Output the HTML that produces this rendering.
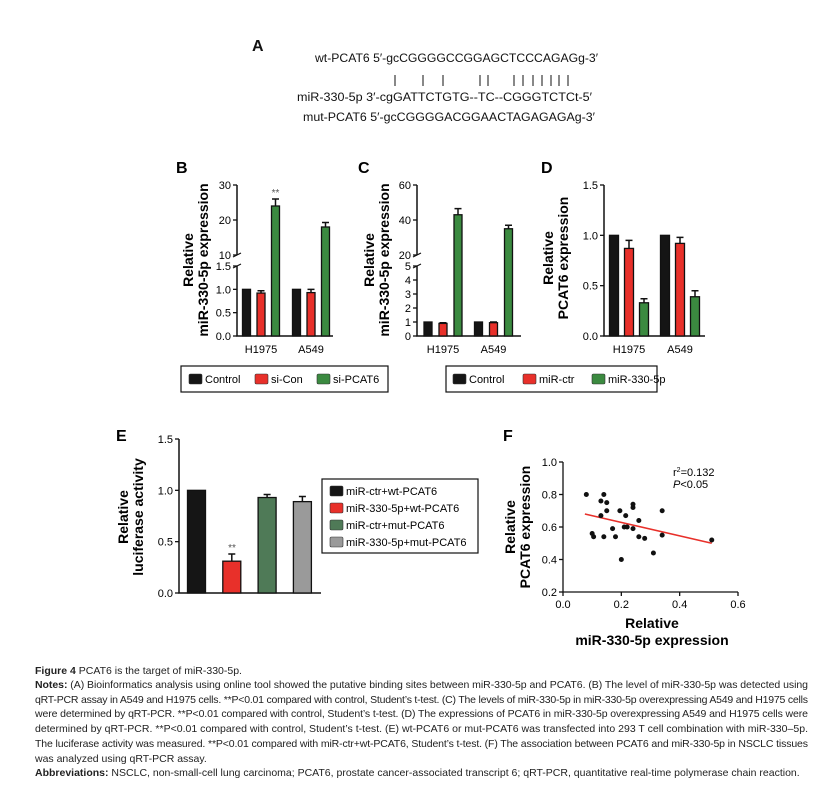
<!DOCTYPE html>
<html><head><meta charset="utf-8"><style>
body{margin:0;background:#fff}
svg{display:block;font-family:"Liberation Sans",sans-serif}
</style></head><body>
<svg id="fig" width="835" height="787" viewBox="0 0 835 787" xmlns="http://www.w3.org/2000/svg">
<g font-size="11.5" fill="#111">
<text x="252" y="51" font-size="16" font-weight="bold">A</text>
<text x="315" y="62" textLength="283" lengthAdjust="spacingAndGlyphs">wt-PCAT6 5′-gcCGGGGCCGGAGCTCCCAGAGg-3′</text>
<text x="297" y="101" textLength="295" lengthAdjust="spacingAndGlyphs">miR-330-5p 3′-cgGATTCTGTG--TC--CGGGTCTCt-5′</text>
<text x="303" y="121" textLength="292" lengthAdjust="spacingAndGlyphs">mut-PCAT6 5′-gcCGGGGACGGAACTAGAGAGAg-3′</text>
<g id="pairs" stroke="#111" stroke-width="1"></g>
</g>
<g id="chartB"></g>
<g id="chartC"></g>
<g id="chartD"></g>
<g id="chartE"></g>
<g id="chartF"></g>
<g font-size="10.5" fill="#222">
<text x="35" y="674"><tspan font-weight="bold">Figure 4</tspan> PCAT6 is the target of miR-330-5p.</text>
<text x="35" y="688" textLength="773" lengthAdjust="spacing"><tspan font-weight="bold">Notes:</tspan> (A) Bioinformatics analysis using online tool showed the putative binding sites between miR-330-5p and PCAT6. (B) The level of miR-330-5p was detected using</text>
<text x="35" y="703" textLength="773" lengthAdjust="spacing">qRT-PCR assay in A549 and H1975 cells. **P&lt;0.01 compared with control, Student’s t-test. (C) The levels of miR-330-5p in miR-330-5p overexpressing A549 and H1975 cells</text>
<text x="35" y="717" textLength="773" lengthAdjust="spacing">were determined by qRT-PCR. **P&lt;0.01 compared with control, Student’s t-test. (D) The expressions of PCAT6 in miR-330-5p overexpressing A549 and H1975 cells were</text>
<text x="35" y="732" textLength="773" lengthAdjust="spacing">determined by qRT-PCR. **P&lt;0.01 compared with control, Student’s t-test. (E) wt-PCAT6 or mut-PCAT6 was transfected into 293 T cell combination with miR-330–5p.</text>
<text x="35" y="747" textLength="773" lengthAdjust="spacing">The luciferase activity was measured. **P&lt;0.01 compared with miR-ctr+wt-PCAT6, Student’s t-test. (F) The association between PCAT6 and miR-330-5p in NSCLC tissues</text>
<text x="35" y="762">was analyzed using qRT-PCR assay.</text>
<text x="35" y="776"><tspan font-weight="bold">Abbreviations:</tspan> NSCLC, non-small-cell lung carcinoma; PCAT6, prostate cancer-associated transcript 6; qRT-PCR, quantitative real-time polymerase chain reaction.</text>
</g>
</svg>
<script>
// ---- data ----
const cellLines = ["H1975", "A549"];
const bSeries = ["Control", "si-Con", "si-PCAT6"];
const bValues = [[1.0, 0.92, 24], [1.0, 0.93, 18]];
const bErrors = [[0, 0.05, 2], [0, 0.07, 1.3]];
const bLowTicks = ["0.0", "0.5", "1.0", "1.5"];
const bHighTicks = ["10", "20", "30"];
const cSeries = ["Control", "miR-ctr", "miR-330-5p"];
const cValues = [[1.0, 0.9, 43], [1.0, 0.95, 35]];
const cErrors = [[0, 0.05, 3.5], [0, 0.05, 2]];
const cLowTicks = ["0", "1", "2", "3", "4", "5"];
const cHighTicks = ["20", "40", "60"];
const dValues = [[1.0, 0.87, 0.33], [1.0, 0.92, 0.39]];
const dErrors = [[0, 0.08, 0.04], [0, 0.06, 0.06]];
const dTicks = ["0.0", "0.5", "1.0", "1.5"];
const eSeries = ["miR-ctr+wt-PCAT6", "miR-330-5p+wt-PCAT6", "miR-ctr+mut-PCAT6", "miR-330-5p+mut-PCAT6"];
const eValues = [1.0, 0.31, 0.93, 0.89];
const eErrors = [0, 0.07, 0.03, 0.05];
const eTicks = ["0.0", "0.5", "1.0", "1.5"];
const fX = [0.08,0.10,0.105,0.13,0.13,0.14,0.14,0.15,0.15,0.17,0.18,0.195,0.20,0.21,0.215,0.22,0.24,0.24,0.24,0.26,0.26,0.28,0.31,0.34,0.34,0.51];
const fY = [0.80,0.56,0.54,0.67,0.76,0.80,0.54,0.75,0.70,0.59,0.54,0.70,0.40,0.60,0.67,0.60,0.74,0.72,0.59,0.64,0.54,0.53,0.44,0.70,0.55,0.52];
const fFit = [[0.075, 0.68], [0.51, 0.50]];
const fXTicks = ["0.0", "0.2", "0.4", "0.6"];
const fYTicks = ["0.2", "0.4", "0.6", "0.8", "1.0"];
const pairMarks = [395,423,443,480,488,514,523,533,542,551,559,568];

const NS = "http://www.w3.org/2000/svg";
function mk(parent, tag, attrs, text) {
  const e = document.createElementNS(NS, tag);
  for (const k in attrs) e.setAttribute(k, attrs[k]);
  if (text !== undefined) e.textContent = text;
  parent.appendChild(e);
  return e;
}
const pg = document.getElementById("pairs");
pairMarks.forEach(x => {
  const l = mk(pg, "line", {x1: x, x2: x, y1: 75, y2: 86});
  
  
});

const COLORS3 = ["#151515", "#e8302a", "#3b8a40"];
function label(g, x, y, t) {
  const e = mk(g, "text", {x: x, y: y, "font-size": 16, "font-weight": "bold"}, t);
  
  
}
function ytitle(g, x, y, t) {
  const e = mk(g, "text", {x: 0, y: 0, transform: `translate(${x},${y}) rotate(-90)`, "text-anchor": "middle", "font-size": 14, "font-weight": "bold"}, t);
  
  
}
function tick(g, ax, y, t) {
  const l = mk(g, "line", {x1: ax - 4, x2: ax, y1: y, y2: y, stroke: "#111", "stroke-width": 1.3});
  
  
  const e = mk(g, "text", {x: ax - 6, y: y + 4, "text-anchor": "end", "font-size": 11}, t);
  
  
}
function bar(g, cx, w, y0, y1, color, errTop) {
  const r = mk(g, "rect", {x: cx - w/2, y: y1, width: w, height: y0 - y1, fill: color, stroke: "#111", "stroke-width": 1.3});
  
  
  if (errTop !== null && errTop < y1 - 0.5) {
    const e = mk(g, "path", {d: `M${cx},${y1}V${errTop}M${cx-3.5},${errTop}H${cx+3.5}`, stroke: "#111", "stroke-width": 1.5, fill: "none"});
    
    
  }
}
function legendRow(g, box, items, colors, xs) {
  const b = mk(g, "rect", {x: box[0], y: box[1], width: box[2], height: box[3], fill: "#fff", stroke: "#111", "stroke-width": 1.2});
  
  
  items.forEach((t, i) => {
    const s = mk(g, "rect", {x: xs[i], y: box[1] + 8, width: 13, height: 10, rx: 1.5, fill: colors[i], stroke: "#333", "stroke-width": 0.6});
    
    
    const e = mk(g, "text", {x: xs[i] + 16, y: box[1] + 17, "font-size": 11}, t);
    
    
  });
}

function brokenChart(id, ax, axEnd, lowMax, upMin, upMax, lowTicks, highTicks, values, errors, centers, off, w) {
  const g = document.getElementById(id);
  const base = 336, lowTop = 266, upBot = 255, upTop = 185;
  const y = v => v <= lowMax ? base - v / lowMax * (base - lowTop) : upBot - (v - upMin) / (upMax - upMin) * (upBot - upTop);
  const ax1 = mk(g, "path", {d: `M${ax},${upTop}V${upBot}M${ax},${lowTop}V${base}H${axEnd}`, stroke: "#111", "stroke-width": 1.5, fill: "none"});
  
  
  const br = mk(g, "path", {d: `M${ax-4},${upBot+2}L${ax+4},${upBot-2}M${ax-4},${lowTop+2}L${ax+4},${lowTop-2}`, stroke: "#111", "stroke-width": 1.2});
  
  
  lowTicks.forEach(t => tick(g, ax, y(parseFloat(t)), t));
  highTicks.forEach(t => tick(g, ax, y(parseFloat(t)), t));
  values.forEach((grp, gi) => {
    grp.forEach((v, si) => {
      const cx = centers[gi] + (si - 1) * off;
      bar(g, cx, w, base, y(v), COLORS3[si], errors[gi][si] ? y(v + errors[gi][si]) : null);
    });
    const e = mk(g, "text", {x: centers[gi], y: 353, "text-anchor": "middle", "font-size": 11}, cellLines[gi]);
    
    
  });
  return {g, y};
}
const B = brokenChart("chartB", 237, 333, 1.5, 10, 30, bLowTicks, bHighTicks, bValues, bErrors, [261, 311], 14.5, 8);
label(B.g, 176, 173, "B");
ytitle(B.g, 193, 260, "Relative");
ytitle(B.g, 208, 260, "miR-330-5p expression");
const st = mk(B.g, "text", {x: 275.5, y: B.y(bValues[0][2] + bErrors[0][2]) - 3, "text-anchor": "middle", "font-size": 10, fill: "#555"}, "**");


legendRow(B.g, [181, 366, 207, 26], bSeries, COLORS3, [189, 255, 317]);

const C = brokenChart("chartC", 417, 521, 5, 20, 60, cLowTicks, cHighTicks, cValues, cErrors, [443, 493.5], 15, 8);
label(C.g, 358, 173, "C");
ytitle(C.g, 374, 260, "Relative");
ytitle(C.g, 389, 260, "miR-330-5p expression");

(function(){
  const g = document.getElementById("chartD");
  const ax = 604, base = 336, top = 185;
  const y = v => base - v / 1.5 * (base - top);
  const a = mk(g, "path", {d: `M${ax},${top}V${base}H705`, stroke: "#111", "stroke-width": 1.5, fill: "none"});
  
  
  dTicks.forEach(t => tick(g, ax, y(parseFloat(t)), t));
  const centers = [629, 680];
  dValues.forEach((grp, gi) => {
    grp.forEach((v, si) => bar(g, centers[gi] + (si - 1) * 15, 9, base, y(v), COLORS3[si], dErrors[gi][si] ? y(v + dErrors[gi][si]) : null));
    const e = mk(g, "text", {x: centers[gi], y: 353, "text-anchor": "middle", "font-size": 11}, cellLines[gi]);
    
    
  });
  label(g, 541, 173, "D");
  ytitle(g, 553, 258, "Relative");
  ytitle(g, 568, 258, "PCAT6 expression");
  legendRow(g, [446, 366, 211, 26], cSeries, COLORS3, [453, 523, 592]);
})();

(function(){
  const g = document.getElementById("chartE");
  const ax = 179, base = 593, top = 439;
  const y = v => base - v / 1.5 * (base - top);
  const cols = ["#151515", "#e8302a", "#4f7a57", "#9a9a9a"];
  const a = mk(g, "path", {d: `M${ax},${top}V${base}H321`, stroke: "#111", "stroke-width": 1.5, fill: "none"});
  
  
  eTicks.forEach(t => tick(g, ax, y(parseFloat(t)), t));
  eValues.forEach((v, i) => bar(g, 196.5 + i * 35.3, 18, base, y(v), cols[i], eErrors[i] ? y(v + eErrors[i]) : null));
  const s = mk(g, "text", {x: 232, y: y(eValues[1] + eErrors[1]) - 3, "text-anchor": "middle", "font-size": 10, fill: "#555"}, "**");
  
  
  label(g, 116, 441, "E");
  ytitle(g, 128, 517, "Relative");
  ytitle(g, 143, 517, "luciferase activity");
  const b = mk(g, "rect", {x: 322, y: 479, width: 156, height: 74, fill: "#fff", stroke: "#111", "stroke-width": 1.2});
  
  
  eSeries.forEach((t, i) => {
    const sw = mk(g, "rect", {x: 330, y: 486 + i * 17, width: 13, height: 10, rx: 1.5, fill: cols[i], stroke: "#333", "stroke-width": 0.6});
    
    
    const e = mk(g, "text", {x: 346, y: 495 + i * 17, "font-size": 11}, t);
    
    
  });
})();

(function(){
  const g = document.getElementById("chartF");
  const x0 = 563, x1 = 738, y0 = 592, y1 = 462;
  const X = v => x0 + v / 0.6 * (x1 - x0);
  const Y = v => y0 - (v - 0.2) / 0.8 * (y0 - y1);
  const a = mk(g, "path", {d: `M${x0},${y1}V${y0}H${x1}`, stroke: "#111", "stroke-width": 1.3, fill: "none"});
  
  
  fYTicks.forEach(t => tick(g, x0, Y(parseFloat(t)), t));
  fXTicks.forEach(t => {
    const x = X(parseFloat(t));
    const l = mk(g, "line", {x1: x, x2: x, y1: y0, y2: y0 + 4, stroke: "#111", "stroke-width": 1.3});
    
    
    const e = mk(g, "text", {x: x, y: y0 + 16, "text-anchor": "middle", "font-size": 11}, t);
    
    
  });
  const fl = mk(g, "line", {x1: X(fFit[0][0]), y1: Y(fFit[0][1]), x2: X(fFit[1][0]), y2: Y(fFit[1][1]), stroke: "#e8302a", "stroke-width": 1.6});
  
  
  fX.forEach((v, i) => {
    const c = mk(g, "circle", {cx: X(v), cy: Y(fY[i]), r: 2.5, fill: "#111"});
    
    
  });
  label(g, 503, 441, "F");
  ytitle(g, 515, 527, "Relative");
  ytitle(g, 530, 527, "PCAT6 expression");
  const t1 = mk(g, "text", {x: 652, y: 628, "text-anchor": "middle", "font-size": 14, "font-weight": "bold"}, "Relative");
  
  
  const t2 = mk(g, "text", {x: 652, y: 645, "text-anchor": "middle", "font-size": 14, "font-weight": "bold"}, "miR-330-5p expression");
  
  
  const r = mk(g, "text", {x: 673, y: 476, "font-size": 11});
  r.innerHTML = 'r<tspan font-size="7" dy="-4">2</tspan><tspan dy="4">=0.132</tspan>';
  
  
  const p = mk(g, "text", {x: 673, y: 488, "font-size": 11});
  p.innerHTML = '<tspan font-style="italic">P</tspan>&lt;0.05';
  
  
})();
</script>
</body></html>
